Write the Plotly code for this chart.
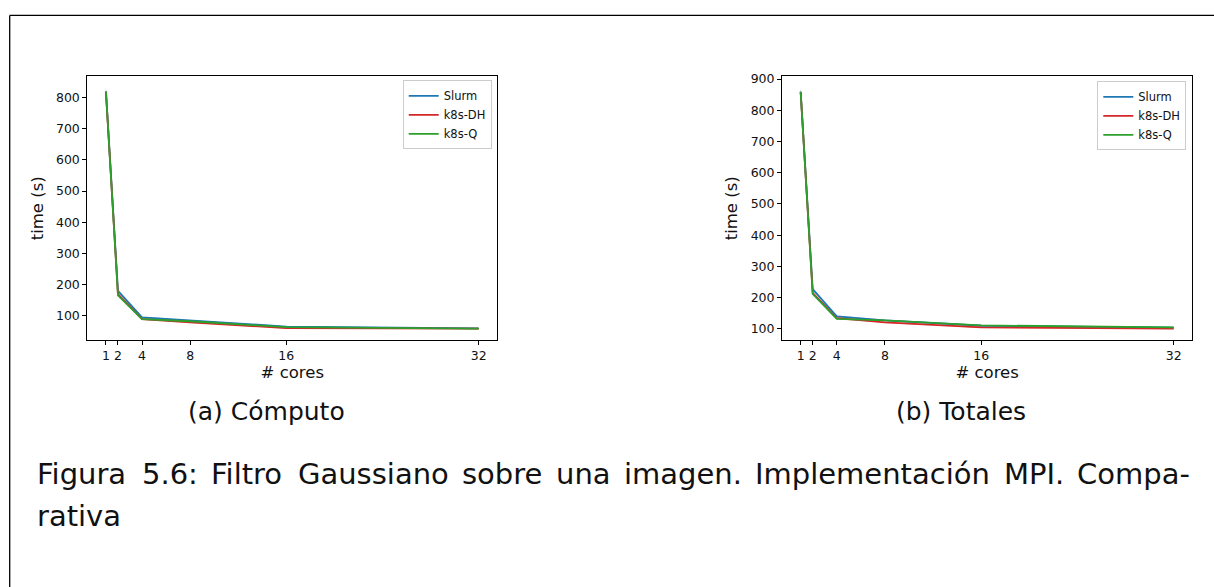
import plotly.graph_objects as go

# ---------------- data ----------------
cores = [1, 2, 4, 8, 16, 32]
tick_labels = ["1", "2", "4", "8", "16", "32"]
series_names = ["Slurm", "k8s-DH", "k8s-Q"]

# (a) Cómputo
comp_slurm = [820, 180, 95, 85, 66, 60]
comp_dh = [818, 170, 90, 79, 61, 59]
comp_q = [818, 166, 90, 83, 64, 59]
comp_std_slurm = [13, 4, 2, 2, 1, 1]
comp_std_dh = [13, 3, 2, 2, 1, 1]
comp_std_q = [13, 3, 2, 2, 1, 1]

# (b) Totales
tot_slurm = [860, 227, 140, 127, 110, 104]
tot_dh = [858, 215, 134, 121, 105, 101]
tot_q = [858, 212, 132, 127, 111, 105]
tot_std_slurm = [13, 4, 3, 2, 2, 2]
tot_std_dh = [13, 3, 2, 2, 2, 2]
tot_std_q = [13, 3, 2, 2, 2, 2]

yticks_comp = [100, 200, 300, 400, 500, 600, 700, 800]
yticks_tot = [100, 200, 300, 400, 500, 600, 700, 800, 900]

subcaptions = ["(a) Cómputo", "(b) Totales"]
caption_line1 = "Figura 5.6: Filtro Gaussiano sobre una imagen. Implementación MPI. Compa-"
caption_line2 = "rativa"

colors = ["#1f77b4", "#d62728", "#2ca02c"]
band_colors = ["rgba(31,119,180,0.3)", "rgba(214,39,40,0.3)", "rgba(44,160,44,0.3)"]

W, H = 1214, 587
FONT = "DejaVu Sans"


def X(px):
    return px / W


def Y(py):
    return 1 - py / H


fig = go.Figure()

panels = [
    ("x", "y", "legend", [comp_slurm, comp_dh, comp_q], [comp_std_slurm, comp_std_dh, comp_std_q]),
    ("x2", "y2", "legend2", [tot_slurm, tot_dh, tot_q], [tot_std_slurm, tot_std_dh, tot_std_q]),
]

for xa, ya, lg, vals, stds in panels:
    # shaded bands (mean +/- std)
    for v, s, bc in zip(vals, stds, band_colors):
        up = [a + b for a, b in zip(v, s)]
        lo = [a - b for a, b in zip(v, s)]
        fig.add_trace(go.Scatter(x=cores, y=up, mode="lines", line=dict(width=0),
                                 xaxis=xa, yaxis=ya, showlegend=False, hoverinfo="skip",
                                 legend=lg))
        fig.add_trace(go.Scatter(x=cores, y=lo, mode="lines", line=dict(width=0),
                                 fill="tonexty", fillcolor=bc,
                                 xaxis=xa, yaxis=ya, showlegend=False, hoverinfo="skip",
                                 legend=lg))
    for name, v, c in zip(series_names, vals, colors):
        fig.add_trace(go.Scatter(x=cores, y=v, mode="lines", name=name,
                                 line=dict(color=c, width=1.8),
                                 xaxis=xa, yaxis=ya, legend=lg))

axis_common = dict(
    showline=True, mirror=True, linecolor="black", linewidth=1,
    ticks="outside", ticklen=4, tickwidth=1, tickcolor="black",
    showgrid=False, zeroline=False,
    tickfont=dict(family=FONT, size=12.5, color="#111111"),
)
TITLE_SIZE = 16.5

legend_common = dict(xanchor="right", yanchor="top", traceorder="normal",
                     bgcolor="rgba(255,255,255,0.85)", bordercolor="#cccccc", borderwidth=1,
                     font=dict(family=FONT, size=11.5, color="#111111"))

fig.update_layout(
    width=W, height=H,
    margin=dict(l=0, r=0, t=0, b=0),
    paper_bgcolor="white", plot_bgcolor="white",
    font=dict(family=FONT, color="#111111"),
    xaxis=dict(domain=[X(87.3), X(497.3)], anchor="y", range=[-0.55, 33.55],
               tickvals=cores, ticktext=tick_labels,
               title=dict(text="# cores", font=dict(size=TITLE_SIZE), standoff=4), **axis_common),
    yaxis=dict(domain=[Y(338.3), Y(71.7)], anchor="x", range=[21.5, 868.5],
               tickvals=yticks_comp,
               title=dict(text="time (s)", font=dict(size=TITLE_SIZE), standoff=8), **axis_common),
    xaxis2=dict(domain=[X(782), X(1192.3)], anchor="y2", range=[-0.55, 33.55],
                tickvals=cores, ticktext=tick_labels,
                title=dict(text="# cores", font=dict(size=TITLE_SIZE), standoff=4), **axis_common),
    yaxis2=dict(domain=[Y(338.3), Y(71.7)], anchor="x2", range=[63, 909.5],
                tickvals=yticks_tot,
                title=dict(text="time (s)", font=dict(size=TITLE_SIZE), standoff=8), **axis_common),
    legend=dict(x=X(491.7), y=Y(76), **legend_common),
    legend2=dict(x=X(1186.3), y=Y(77), **legend_common),
    showlegend=True,
)

# page frame (left and top rules)
fig.add_shape(type="line", xref="paper", yref="paper",
              x0=X(9.7), x1=X(9.7), y0=Y(10.5), y1=-0.01, line=dict(color="black", width=1.3))
fig.add_shape(type="line", xref="paper", yref="paper",
              x0=X(9.7), x1=1.01, y0=Y(10.5), y1=Y(10.5), line=dict(color="black", width=1.3))

# sub captions
SUB_SIZE = 25
for txt, cx in zip(subcaptions, [266.5, 961.5]):
    fig.add_annotation(text=txt, xref="paper", yref="paper", x=X(cx),
                       y=Y(420 + 0.236 * SUB_SIZE), xanchor="center", yanchor="bottom",
                       showarrow=False, borderpad=0,
                       font=dict(family=FONT, size=SUB_SIZE, color="#111111"))

# main caption, justified line
CAP_SIZE = 29
ADV = {"F": .575, "i": .278, "g": .635, "u": .634, "r": .411, "a": .613, "5": .636,
       ".": .318, "6": .636, ":": .337, "l": .278, "t": .392, "o": .612, "G": .775,
       "s": .521, "n": .634, "b": .635, "e": .615, "m": .974, "I": .295, "p": .635,
       "c": .550, "ó": .612, "M": .863, "P": .603, "C": .698, "-": .361, "v": .592}
words = caption_line1.split(" ")
wwidths = [sum(ADV.get(ch, .6) for ch in w) * CAP_SIZE for w in words]
left_px, right_px = 36.0, 1189.0
gap = (right_px - left_px - sum(wwidths)) / (len(words) - 1)
xpos = left_px
for w, ww in zip(words, wwidths):
    fig.add_annotation(text=w, xref="paper", yref="paper", x=X(xpos),
                       y=Y(484.5 + 0.236 * CAP_SIZE), xanchor="left", yanchor="bottom",
                       showarrow=False, borderpad=0,
                       font=dict(family=FONT, size=CAP_SIZE, color="#111111"))
    xpos += ww + gap
fig.add_annotation(text=caption_line2, xref="paper", yref="paper", x=X(left_px),
                   y=Y(527 + 0.236 * CAP_SIZE), xanchor="left", yanchor="bottom",
                   showarrow=False, borderpad=0,
                   font=dict(family=FONT, size=CAP_SIZE, color="#111111"))

fig.write_html("out.html")
